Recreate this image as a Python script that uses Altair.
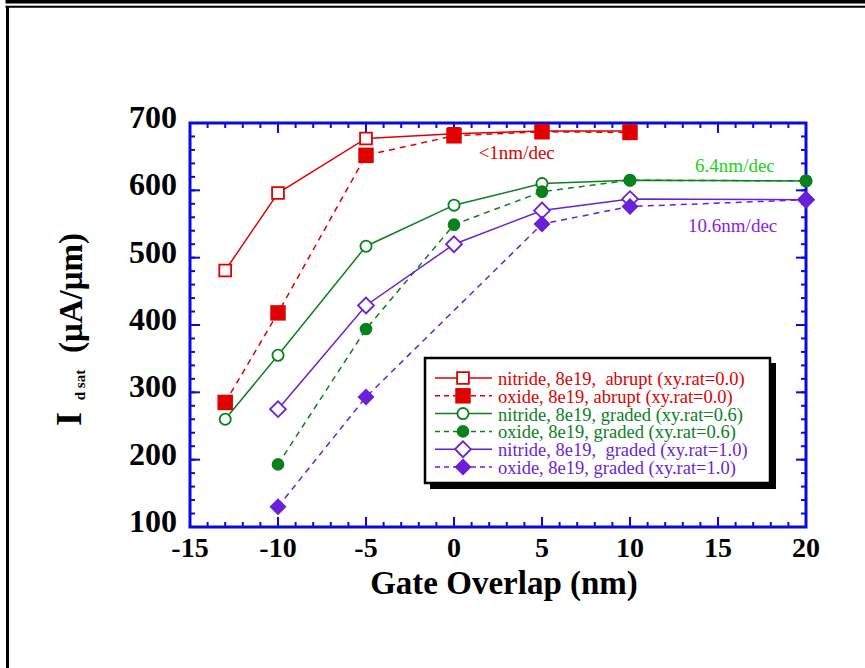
import altair as alt
import pandas as pd

# ---------------- data ----------------
series_labels = [
    "nitride, 8e19,\u00a0 abrupt (xy.rat=0.0)",
    "oxide, 8e19, abrupt (xy.rat=0.0)",
    "nitride, 8e19, graded (xy.rat=0.6)",
    "oxide, 8e19, graded (xy.rat=0.6)",
    "nitride, 8e19,\u00a0 graded (xy.rat=1.0)",
    "oxide, 8e19, graded (xy.rat=1.0)",
]
x_nit_abr = [-13, -10, -5, 0, 5, 10]
y_nit_abr = [481, 596, 677, 684, 688, 688]
x_ox_abr = [-13, -10, -5, 0, 5, 10]
y_ox_abr = [285, 418, 652, 681, 687, 686]
x_nit_g06 = [-13, -10, -5, 0, 5, 10, 20]
y_nit_g06 = [260, 355, 517, 578, 610, 615, 614]
x_ox_g06 = [-10, -5, 0, 5, 10, 20]
y_ox_g06 = [193, 394, 549, 598, 615, 614]
x_nit_g10 = [-10, -5, 0, 5, 10, 20]
y_nit_g10 = [275, 429, 520, 570, 587, 586]
x_ox_g10 = [-10, -5, 5, 10, 20]
y_ox_g10 = [130, 293, 550, 576, 586]

x_tick_labels = [-15, -10, -5, 0, 5, 10, 15, 20]
y_tick_labels = [100, 200, 300, 400, 500, 600, 700]
x_minor_ticks = list(range(-15, 21, 1))
y_minor_ticks = list(range(100, 701, 20))

annot_text = ["<1nm/dec", "6.4nm/dec", "10.6nm/dec"]
annot_x = [1.4, 13.7, 13.3]
annot_y = [655, 636, 547]

x_title = "Gate Overlap (nm)"
y_title_main = "I"
y_title_sub = "d sat"
y_title_unit = "(\u03bcA/\u03bcm)"

# ---------------- styles ----------------
FONT = "Liberation Serif"
BLUE = "#0a0ae0"
RED = "#e00000"
GREEN = "#0a801e"
PURPLE = "#6a1fd9"
W, H = 616, 404

series_xs = [x_nit_abr, x_ox_abr, x_nit_g06, x_ox_g06, x_nit_g10, x_ox_g10]
series_ys = [y_nit_abr, y_ox_abr, y_nit_g06, y_ox_g06, y_nit_g10, y_ox_g10]
series_color = [RED, RED, GREEN, GREEN, PURPLE, PURPLE]
series_dashed = [False, True, False, True, False, True]
series_shape = ["square", "square", "circle", "circle", "diamond", "diamond"]
series_filled = [False, True, False, True, False, True]
series_size = [140, 240, 125, 160, 250, 290]
annot_color = [RED, "#1ad21a", "#8a1ee0"]

xscale = alt.Scale(domain=[-15, 20], nice=False, zero=False)
yscale = alt.Scale(domain=[100, 700], nice=False, zero=False)

dummy = pd.DataFrame({"a": [0]})
layers = []

# outer page frame (decoration)
layers.append(alt.Chart(dummy).mark_rule(color="black", strokeWidth=3.4).encode(
    y=alt.value(-121.3), x=alt.value(-184.5), x2=alt.value(675)))
layers.append(alt.Chart(dummy).mark_rule(color="black", strokeWidth=2).encode(
    y=alt.value(-116.3), x=alt.value(-184.5), x2=alt.value(675)))
layers.append(alt.Chart(dummy).mark_rule(color="black", strokeWidth=3).encode(
    x=alt.value(-182.5), y=alt.value(-117), y2=alt.value(545)))

# ticks (inward, all four sides)
def xticks(vals, length, top):
    df = pd.DataFrame({"t": vals})
    y0 = 0 if top else H
    y1 = length if top else H - length
    return alt.Chart(df).mark_rule(color=BLUE, strokeWidth=2).encode(
        x=alt.X("t:Q", scale=xscale, axis=None), y=alt.value(y0), y2=alt.value(y1))

def yticks(vals, length, right):
    df = pd.DataFrame({"t": vals})
    x0 = W if right else 0
    x1 = W - length if right else length
    return alt.Chart(df).mark_rule(color=BLUE, strokeWidth=2).encode(
        y=alt.Y("t:Q", scale=yscale, axis=None), x=alt.value(x0), x2=alt.value(x1))

layers.append(xticks(x_minor_ticks, 5, False))
layers.append(xticks(x_minor_ticks, 5, True))
layers.append(xticks(x_tick_labels, 10, False))
layers.append(xticks(x_tick_labels, 10, True))
layers.append(yticks(y_minor_ticks, 5, False))
layers.append(yticks(y_minor_ticks, 5, True))
layers.append(yticks(y_tick_labels, 10, False))
layers.append(yticks(y_tick_labels, 10, True))

# tick labels (through the scales)
xl = pd.DataFrame({"t": x_tick_labels, "s": [str(v) for v in x_tick_labels]})
layers.append(alt.Chart(xl).mark_text(align="center", baseline="alphabetic", font=FONT, fontSize=28,
                                      fontWeight="bold", color="black").encode(
    x=alt.X("t:Q", scale=xscale, axis=None), y=alt.value(H + 30), text="s:N"))
yl = pd.DataFrame({"t": y_tick_labels, "s": [str(v) for v in y_tick_labels]})
layers.append(alt.Chart(yl).mark_text(align="right", baseline="middle", font=FONT, fontSize=32,
                                      fontWeight="bold", color="black", dy=-5).encode(
    y=alt.Y("t:Q", scale=yscale, axis=None), x=alt.value(-13), text="s:N"))

# series lines
for i in range(6):
    df = pd.DataFrame({"x": series_xs[i], "y": series_ys[i]})
    kw = dict(color=series_color[i], strokeWidth=1.5)
    if series_dashed[i]:
        kw["strokeDash"] = [6, 5]
    layers.append(alt.Chart(df).mark_line(**kw).encode(
        x=alt.X("x:Q", scale=xscale, axis=None), y=alt.Y("y:Q", scale=yscale, axis=None)))

# markers: open first, filled on top
for i in [0, 2, 4, 1, 3, 5]:
    df = pd.DataFrame({"x": series_xs[i], "y": series_ys[i]})
    if series_filled[i]:
        mk = alt.Chart(df).mark_point(shape=series_shape[i], filled=True, color=series_color[i],
                                      opacity=1, size=series_size[i])
    else:
        mk = alt.Chart(df).mark_point(shape=series_shape[i], filled=True, fill="white",
                                      stroke=series_color[i], strokeWidth=1.8, opacity=1,
                                      size=series_size[i])
    layers.append(mk.encode(x=alt.X("x:Q", scale=xscale, axis=None),
                            y=alt.Y("y:Q", scale=yscale, axis=None)))

# annotations
for i in range(3):
    df = pd.DataFrame({"x": [annot_x[i]], "y": [annot_y[i]], "t": [annot_text[i]]})
    layers.append(alt.Chart(df).mark_text(align="left", baseline="middle", font=FONT, fontSize=19,
                                          color=annot_color[i]).encode(
        x=alt.X("x:Q", scale=xscale, axis=None), y=alt.Y("y:Q", scale=yscale, axis=None),
        text="t:N"))

# legend box
layers.append(alt.Chart(dummy).mark_rect(color="black").encode(
    x=alt.value(240), x2=alt.value(586), y=alt.value(240), y2=alt.value(366)))
layers.append(alt.Chart(dummy).mark_rect(fill="white", stroke="black", strokeWidth=2.5).encode(
    x=alt.value(235), x2=alt.value(580), y=alt.value(235), y2=alt.value(360)))
for i in range(6):
    yy = 255 + i * 17.8
    kw = dict(color=series_color[i], strokeWidth=1.5)
    if series_dashed[i]:
        kw["strokeDash"] = [5, 4]
    layers.append(alt.Chart(dummy).mark_rule(**kw).encode(
        x=alt.value(245), x2=alt.value(302), y=alt.value(yy)))
    if series_filled[i]:
        sym = alt.Chart(dummy).mark_point(shape=series_shape[i], filled=True, color=series_color[i],
                                          opacity=1, size=series_size[i])
    else:
        sym = alt.Chart(dummy).mark_point(shape=series_shape[i], filled=True, fill="white",
                                          stroke=series_color[i], strokeWidth=1.8, opacity=1,
                                          size=series_size[i])
    layers.append(sym.encode(x=alt.value(273), y=alt.value(yy)))
    layers.append(alt.Chart(dummy).mark_text(text=series_labels[i], align="left", baseline="middle",
                                             font=FONT, fontSize=18.5, color=series_color[i]).encode(
        x=alt.value(308), y=alt.value(yy + 1)))

# axis titles
layers.append(alt.Chart(dummy).mark_text(text=x_title, align="center", baseline="alphabetic",
                                         font=FONT, fontSize=33, fontWeight="bold", color="black").encode(
    x=alt.value(314), y=alt.value(471)))
layers.append(alt.Chart(dummy).mark_text(text=y_title_main, angle=270, align="center", baseline="middle",
                                         font=FONT, fontSize=36, fontWeight="bold", color="black").encode(
    x=alt.value(-120), y=alt.value(296)))
layers.append(alt.Chart(dummy).mark_text(text=y_title_sub, angle=270, align="center", baseline="middle",
                                         font=FONT, fontSize=15, fontWeight="bold", color="black").encode(
    x=alt.value(-110.5), y=alt.value(262)))
layers.append(alt.Chart(dummy).mark_text(text=y_title_unit, angle=270, align="center", baseline="middle",
                                         font=FONT, fontSize=33, fontWeight="bold", color="black").encode(
    x=alt.value(-118.5), y=alt.value(170)))

chart = alt.layer(*layers).properties(
    width=W, height=H,
    autosize=alt.AutoSizeParams(type="none"),
    padding={"left": 190, "top": 123, "right": 59, "bottom": 141},
).configure_view(stroke=BLUE, strokeWidth=3)

chart.save("out.html", embed_options={"renderer": "svg", "actions": False})
